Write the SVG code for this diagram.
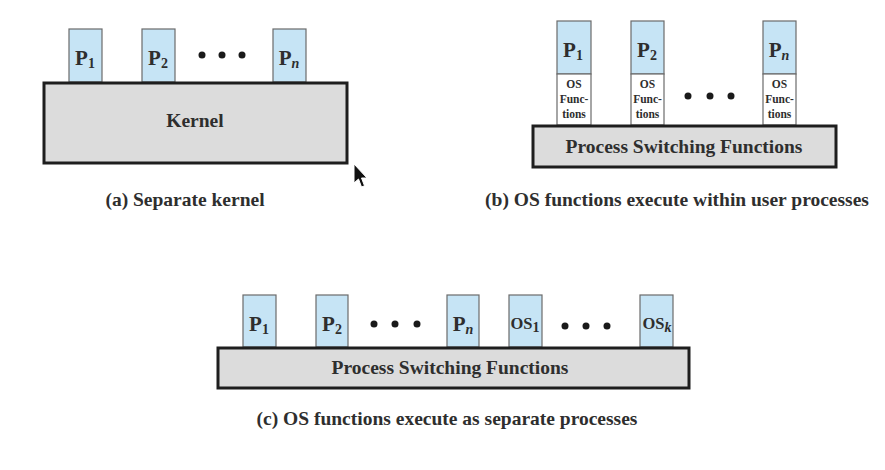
<svg xmlns="http://www.w3.org/2000/svg" width="885" height="470" viewBox="0 0 885 470">
<style>
.bg{fill:#ffffff}
.proc{fill:#c6e4f5;stroke:#6b6b6b;stroke-width:1.2}
.osf{fill:#ffffff;stroke:#6b6b6b;stroke-width:1.2}
.base{fill:#dcdcdc;stroke:#1e1e1e;stroke-width:3}
.t{font-weight:bold;fill:#2e2e2e;text-anchor:middle}
.pl{font-size:21px}
.sub{font-size:14px}
.big{font-size:19.5px}
.cap{font-size:19.5px}
.small{font-size:11.5px}
.dot{fill:#1a1a1a}
</style>
<rect class="bg" width="885" height="470"/>
<g font-family="'Liberation Serif', 'Times New Roman', serif">
<!-- (a) Separate kernel -->
<g id="a-p1"><rect class="proc" x="69" y="29" width="33" height="53"/><text class="t pl" x="85" y="65">P<tspan class="sub" dy="3">1</tspan></text></g>
<g id="a-p2"><rect class="proc" x="142" y="29" width="33" height="53"/><text class="t pl" x="158" y="65">P<tspan class="sub" dy="3">2</tspan></text></g>
<g id="a-dots"><circle class="dot" cx="202" cy="55" r="3.5"/><circle class="dot" cx="222" cy="55" r="3.5"/><circle class="dot" cx="242" cy="55" r="3.5"/></g>
<g id="a-pn"><rect class="proc" x="273" y="29" width="33" height="53"/><text class="t pl" x="289" y="65">P<tspan class="sub" font-style="italic" dy="3">n</tspan></text></g>
<g id="a-kernel"><rect class="base" x="44" y="83" width="303" height="80"/><text class="t big" x="195" y="127">Kernel</text></g>
<text id="cap-a" class="t cap" x="185" y="206">(a) Separate kernel</text>

<!-- (b) OS functions within user processes -->
<g id="b-p1"><rect class="proc" x="557" y="21" width="34" height="53"/><rect class="osf" x="557" y="74" width="34" height="51"/><text class="t pl" x="573" y="57">P<tspan class="sub" dy="3">1</tspan></text><text class="t small" x="574" y="88">OS</text><text class="t small" x="574" y="103">Func-</text><text class="t small" x="574" y="118">tions</text></g>
<g id="b-p2"><rect class="proc" x="631" y="21" width="33" height="53"/><rect class="osf" x="631" y="74" width="33" height="51"/><text class="t pl" x="647" y="57">P<tspan class="sub" dy="3">2</tspan></text><text class="t small" x="647.5" y="88">OS</text><text class="t small" x="647.5" y="103">Func-</text><text class="t small" x="647.5" y="118">tions</text></g>
<g id="b-dots"><circle class="dot" cx="688" cy="96" r="3.5"/><circle class="dot" cx="710" cy="96" r="3.5"/><circle class="dot" cx="731" cy="96" r="3.5"/></g>
<g id="b-pn"><rect class="proc" x="763" y="21" width="33" height="53"/><rect class="osf" x="763" y="74" width="33" height="51"/><text class="t pl" x="779" y="57">P<tspan class="sub" font-style="italic" dy="3">n</tspan></text><text class="t small" x="779.5" y="88">OS</text><text class="t small" x="779.5" y="103">Func-</text><text class="t small" x="779.5" y="118">tions</text></g>
<g id="b-psf"><rect class="base" x="533" y="126" width="303" height="41"/><text class="t big" x="684" y="153">Process Switching Functions</text></g>
<text id="cap-b" class="t cap" x="677" y="206">(b) OS functions execute within user processes</text>

<!-- (c) OS functions as separate processes -->
<g id="c-p1"><rect class="proc" x="243" y="295" width="33" height="52"/><text class="t pl" x="259" y="331">P<tspan class="sub" dy="3">1</tspan></text></g>
<g id="c-p2"><rect class="proc" x="316" y="295" width="32" height="52"/><text class="t pl" x="332" y="331">P<tspan class="sub" dy="3">2</tspan></text></g>
<g id="c-dots1"><circle class="dot" cx="374" cy="324" r="3.5"/><circle class="dot" cx="395" cy="324" r="3.5"/><circle class="dot" cx="417" cy="324" r="3.5"/></g>
<g id="c-pn"><rect class="proc" x="447" y="295" width="32" height="52"/><text class="t pl" x="463" y="331">P<tspan class="sub" font-style="italic" dy="3">n</tspan></text></g>
<g id="c-os1"><rect class="proc" x="509" y="295" width="33" height="52"/><text class="t" font-size="16.5" x="525" y="329">OS<tspan class="sub" dy="3">1</tspan></text></g>
<g id="c-dots2"><circle class="dot" cx="565" cy="326" r="3.5"/><circle class="dot" cx="586" cy="326" r="3.5"/><circle class="dot" cx="607" cy="326" r="3.5"/></g>
<g id="c-osk"><rect class="proc" x="640" y="295" width="33" height="52"/><text class="t" font-size="16.5" x="657" y="329">OS<tspan class="sub" font-style="italic" dy="3">k</tspan></text></g>
<g id="c-psf"><rect class="base" x="218" y="348" width="471" height="40"/><text class="t big" x="450" y="374">Process Switching Functions</text></g>
<text id="cap-c" class="t cap" x="447" y="425">(c) OS functions execute as separate processes</text>
</g>
<path id="cursor" d="M354,164 L354,183 L358.5,179 L361.5,187 L364.5,185.8 L361.5,178 L367,178 Z" fill="#111" stroke="#fff" stroke-width="1"/>
</svg>
